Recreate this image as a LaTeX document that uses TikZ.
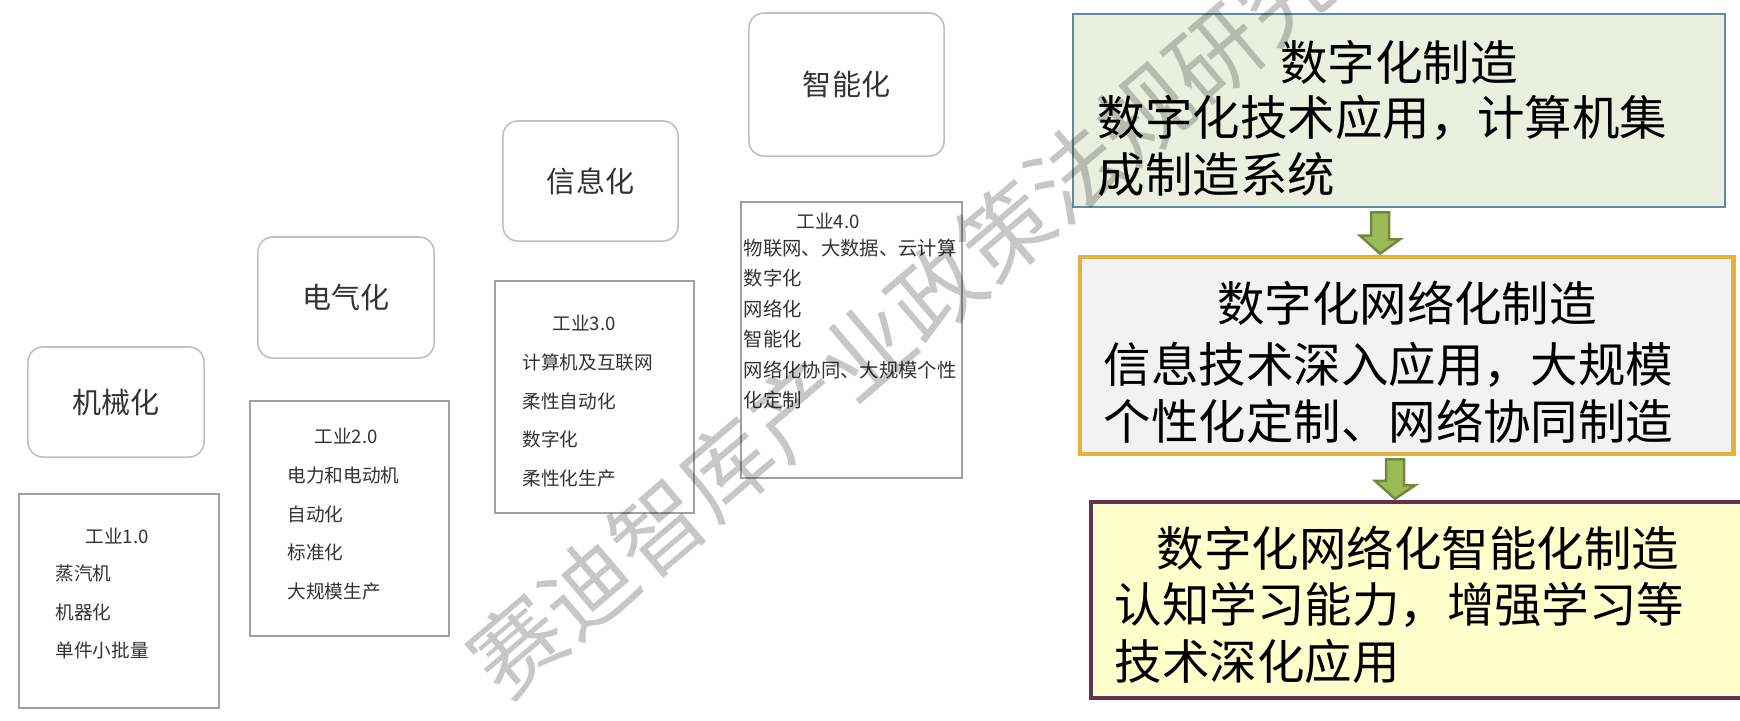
\documentclass[tikz,border=0pt]{standalone}
\usepackage{fontspec}
\newfontfamily\cjk{Noto Sans CJK SC}
\usepackage{xcolor}
\usepackage{tikz}
\usetikzlibrary{arrows.meta, positioning, calc}
\definecolor{mylightline}{RGB}{192, 192, 192}
\definecolor{mygrayline}{RGB}{160, 160, 160}
\definecolor{mygreenfill}{RGB}{235, 240, 222}
\definecolor{myblueline}{RGB}{92, 140, 168}
\definecolor{mygrayfill}{RGB}{242, 242, 242}
\definecolor{mygold}{RGB}{230, 177, 63}
\definecolor{myyellow}{RGB}{255, 255, 204}
\definecolor{mymaroon}{RGB}{104, 48, 76}
\definecolor{myarrow}{RGB}{155, 187, 89}
\definecolor{myarrowline}{RGB}{113, 137, 63}

\begin{document}
\begin{tikzpicture}[x=0.01cm, y=-0.01cm,
    titlebox/.style={draw=mylightline, line width=0.45pt, rounded corners=0.15cm, fill=white,
        text=black!80, font={\cjk\fontsize{8.25}{10}\selectfont}},
    descbox/.style={draw=mygrayline, line width=0.45pt, fill=white},
    hdrtxt/.style={inner sep=0pt, text=black!80, font={\cjk\fontsize{5.3}{11}\selectfont}},
    listtxt/.style={inner sep=0pt, anchor=west, align=left, text=black!80, font={\cjk\fontsize{5.3}{11}\selectfont}},
    mainbox/.style={minimum width=6.52cm, minimum height=1.95cm},
    maintxt/.style={inner sep=0pt, font={\cjk\fontsize{13.5}{16.2}\selectfont}},
    blockarrow/.style={fill=myarrow, draw=myarrowline, line width=0.7pt, line join=miter},
    watermark/.style={inner sep=0pt, text=black, text opacity=0.22, font={\cjk\fontsize{26}{30}\selectfont}}]
    \useasboundingbox (0,0) rectangle (1740,720);

    % 四个阶段的标题框
    \node[titlebox, minimum width=1.76cm, minimum height=1.10cm] (t1) at (116,402) {机械化};
    \node[titlebox, minimum width=1.76cm, minimum height=1.21cm] (t2) at (346,297.5) {电气化};
    \node[titlebox, minimum width=1.75cm, minimum height=1.20cm] (t3) at (590.5,181) {信息化};
    \node[titlebox, minimum width=1.95cm, minimum height=1.43cm] (t4) at (846.5,84.5) {智能化};

    % 工业1.0 至 工业4.0 的说明框
    \node[descbox, minimum width=2.00cm, minimum height=2.14cm] (d1) at (119,601) {};
    \node[hdrtxt] (h1) at (117,536) {工业1.0};
    \node[listtxt] (l1) at (55,612) {蒸汽机\\机器化\\单件小批量};

    \node[descbox, minimum width=1.99cm, minimum height=2.35cm] (d2) at (349.5,518.5) {};
    \node[hdrtxt] (h2) at (346,436) {工业2.0};
    \node[listtxt] (l2) at (287,533.5) {电力和电动机\\自动化\\标准化\\大规模生产};

    \node[descbox, minimum width=1.99cm, minimum height=2.32cm] (d3) at (594.5,397) {};
    \node[hdrtxt] (h3) at (584,323) {工业3.0};
    \node[listtxt] (l3) at (522,420.5) {计算机及互联网\\柔性自动化\\数字化\\柔性化生产};

    \node[descbox, minimum width=2.21cm, minimum height=2.76cm] (d4) at (851.5,340) {};
    \node[hdrtxt] (h4) at (828,221) {工业4.0};
    \node[listtxt, font={\cjk\fontsize{5.5}{8.65}\selectfont}] (l4) at (743,324)
        {物联网、大数据、云计算\\数字化\\网络化\\智能化\\网络化协同、大规模个性\\化定制};

    % 右侧三个制造阶段
    \node[mainbox, fill=mygreenfill, draw=myblueline, line width=0.7pt, minimum height=1.93cm] (m1) at (1399,110.5) {};
    \node[maintxt] (m1t) at (1399,62) {数字化制造};
    \node[maintxt, anchor=west, align=left] (m1b) at (1097,146) {数字化技术应用，计算机集\\成制造系统};

    \node[mainbox, fill=mygrayfill, draw=mygold, line width=1.3pt, minimum width=6.53cm, minimum height=1.97cm] (m2) at (1406.5,355.5) {};
    \node[maintxt] (m2t) at (1407,303) {数字化网络化制造};
    \node[maintxt, anchor=west, align=left] (m2b) at (1103,392.5) {信息技术深入应用，大规模\\个性化定制、网络协同制造};

    \node[mainbox, fill=myyellow, draw=mymaroon, line width=1.2pt, minimum width=6.59cm, minimum height=1.96cm] (m3) at (1420.5,600) {};
    \node[maintxt] (m3t) at (1418,548) {数字化网络化智能化制造};
    \node[maintxt, anchor=west, align=left] (m3b) at (1114,632.5) {认知学习能力，增强学习等\\技术深化应用};

    % 绿色箭头
    \coordinate (a1) at (1380,0);
    \coordinate (a2) at (1395,0);
    \draw[blockarrow] ($(a1 |- m1.south)+(-9,4)$) -- ++(18,0) -- ++(0,27) -- ++(11,0)
        -- ($(a1 |- m2.north)+(0,-1)$) -- ++(-20,-18) -- ++(11,0) -- cycle;
    \draw[blockarrow] ($(a2 |- m2.south)+(-9,3)$) -- ++(18,0) -- ++(0,26) -- ++(11,0)
        -- ($(a2 |- m3.north)+(0,-1)$) -- ++(-20,-18) -- ++(11,0) -- cycle;

    % 水印
    \node[watermark, rotate=40.4] (wm) at (936,291) {赛迪智库产业政策法规研究所};
\end{tikzpicture}
\end{document}
